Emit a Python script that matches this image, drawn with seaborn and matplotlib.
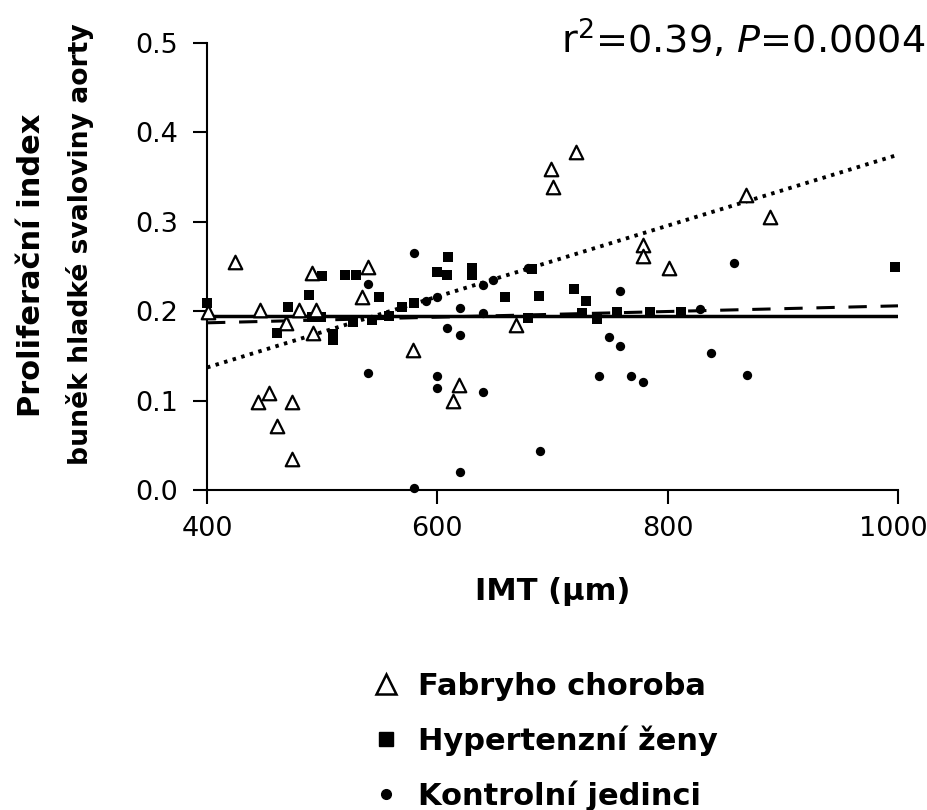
import matplotlib
matplotlib.use("Agg")
import matplotlib.pyplot as plt
import matplotlib.transforms as mtransforms
import seaborn as sns
from matplotlib.lines import Line2D

# ---- data ----
fabry_x = [424, 491, 540, 535, 401, 446, 480, 495, 469, 492, 579, 454, 444, 474,
           461, 474, 779, 779, 801, 668, 619, 614, 720, 699, 700, 868, 889]
fabry_y = [0.255, 0.243, 0.249, 0.216, 0.199, 0.201, 0.201, 0.201, 0.187, 0.176,
           0.157, 0.108, 0.098, 0.098, 0.072, 0.035, 0.274, 0.262, 0.248, 0.185,
           0.118, 0.099, 0.378, 0.359, 0.339, 0.330, 0.305]

hyper_x = [400, 470, 461, 489, 500, 499, 491, 520, 529, 549, 527, 509, 509, 543,
           558, 569, 580, 600, 608, 609, 630, 630, 659, 688, 682, 679, 719, 729,
           739, 726, 756, 785, 812, 997]
hyper_y = [0.209, 0.205, 0.176, 0.218, 0.239, 0.193, 0.193, 0.240, 0.240, 0.216,
           0.188, 0.175, 0.168, 0.190, 0.195, 0.205, 0.209, 0.244, 0.240, 0.261,
           0.248, 0.240, 0.216, 0.217, 0.247, 0.192, 0.225, 0.211, 0.191, 0.198,
           0.199, 0.199, 0.199, 0.249]

ctrl_x = [580, 540, 600, 590, 608, 620, 648, 640, 620, 640, 679, 540, 600, 600,
          580, 640, 689, 620, 759, 749, 759, 740, 768, 779, 858, 838, 869, 828]
ctrl_y = [0.265, 0.230, 0.216, 0.211, 0.181, 0.173, 0.235, 0.229, 0.204, 0.198,
          0.248, 0.131, 0.128, 0.114, 0.002, 0.110, 0.044, 0.020, 0.223, 0.171,
          0.161, 0.128, 0.128, 0.121, 0.254, 0.153, 0.129, 0.202]

fit_x = [400, 1000]
fabry_fit = [0.137, 0.375]
hyper_fit = [0.187, 0.206]
ctrl_fit = [0.195, 0.195]

labels = ["Fabryho choroba", "Hypertenzní ženy", "Kontrolní jedinci"]
x_ticks = [400, 600, 800, 1000]
y_ticks = [0.0, 0.1, 0.2, 0.3, 0.4, 0.5]

# ---- style ----
sns.set_theme(style="ticks")
plt.rcParams["font.family"] = ["DejaVu Sans"]
plt.rcParams["mathtext.fontset"] = "dejavusans"
for k in ["text.color", "axes.labelcolor", "xtick.color", "ytick.color",
          "axes.edgecolor"]:
    plt.rcParams[k] = "black"

fig = plt.figure(figsize=(9.28, 8.10), dpi=100)
ax = fig.add_axes([207/928, 1-490/810, 691/928, 447/810])

# regression lines
sns.lineplot(x=fit_x, y=ctrl_fit, ax=ax, color="black", lw=2.5, linestyle="-")
sns.lineplot(x=fit_x, y=hyper_fit, ax=ax, color="black", lw=2.2,
             linestyle=(0, (6, 4.5)))
sns.lineplot(x=fit_x, y=fabry_fit, ax=ax, color="black", lw=2.8,
             linestyle=(0, (0.9, 1.4)))

# scatter
sns.scatterplot(x=ctrl_x, y=ctrl_y, ax=ax, marker="o", s=45, color="black",
                edgecolor="black", linewidth=0, clip_on=False, zorder=5)
sns.scatterplot(x=hyper_x, y=hyper_y, ax=ax, marker="s", s=50, color="black",
                edgecolor="black", linewidth=0, clip_on=False, zorder=5)
sns.scatterplot(x=fabry_x, y=fabry_y, ax=ax, marker="^", s=95, facecolor="white",
                edgecolor="black", linewidth=1.6, clip_on=False, zorder=6)

ax.set_xlim(400, 1000)
ax.set_ylim(0, 0.5)
ax.set_xticks(x_ticks)
ax.set_xticklabels([str(v) for v in x_ticks])
ax.set_yticks(y_ticks)
ax.set_yticklabels([f"{v:.1f}" for v in y_ticks])
sns.despine(ax=ax)
for s in ["left", "bottom"]:
    ax.spines[s].set_linewidth(1.5)
    ax.spines[s].set_color("black")
ax.tick_params(axis="both", direction="out", length=10, width=1.5,
               labelsize=19.5, colors="black")
ax.tick_params(axis="y", pad=11)
ax.tick_params(axis="x", pad=9)
# keep the last x tick label inside the canvas
last = ax.get_xticklabels()[-1]
last.set_transform(last.get_transform() +
                   mtransforms.ScaledTranslation(-5/100, 0, fig.dpi_scale_trans))

ax.set_xlabel("IMT (\u00b5m)", fontsize=22, fontweight="bold")
ax.xaxis.set_label_coords(0.5, (490 - 577) / 447)
ax.set_ylabel("")

fig.text(32/928, 1-265/810, "Proliferační index", rotation=90, fontsize=22,
         fontweight="bold", ha="center", va="center")
fig.text(80/928, 1-244/810, "buněk hladké svaloviny aorty", rotation=90,
         fontsize=19.2, fontweight="bold", ha="center", va="center")

fig.text(925/928, 1-40/810, r"r$^2$=0.39, $P$=0.0004", fontsize=27.5,
         ha="right", va="center")

handles = [
    Line2D([], [], marker="^", linestyle="none", markersize=15,
           markerfacecolor="white", markeredgecolor="black", markeredgewidth=1.8),
    Line2D([], [], marker="s", linestyle="none", markersize=10,
           markerfacecolor="black", markeredgecolor="black"),
    Line2D([], [], marker="o", linestyle="none", markersize=7,
           markerfacecolor="black", markeredgecolor="black"),
]
fig.legend(handles, labels, loc="upper left", bbox_to_anchor=(369/928, 1-672/810),
           frameon=False, prop={"size": 22, "weight": "bold"}, borderpad=0,
           borderaxespad=0, labelspacing=0.8, handlelength=1.1,
           handletextpad=0.5)

fig.savefig("out.png", dpi=100)
